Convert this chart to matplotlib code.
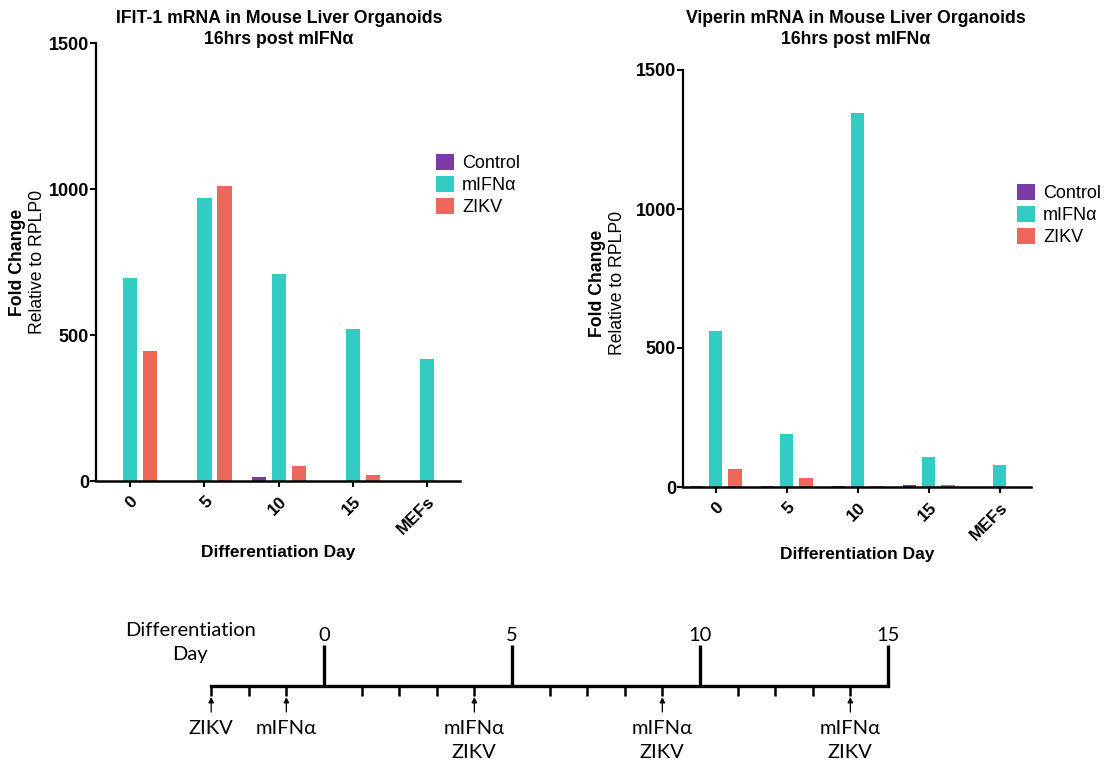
import numpy as np
import matplotlib.pyplot as plt
from matplotlib.patches import Patch

plt.rcParams['font.family'] = ['Liberation Sans', 'DejaVu Sans']

# bar chart data
groups = ['0', '5', '10', '15', 'MEFs']
series = ['Control', 'mIFNα', 'ZIKV']
colors = ['#7B3AA4', '#33CCC5', '#EE675C']

ifit1_control = [0, 0, 13, 0, 0]
ifit1_mifna = [695, 969, 709, 520, 418]
ifit1_zikv = [445, 1010, 52, 22, 0]

viperin_control = [2, 2, 2, 8, 0]
viperin_mifna = [561, 190, 1346, 109, 79]
viperin_zikv = [65, 32, 2, 6, 0]

# timeline data
major_days = [0, 5, 10, 15]
minor_days = [-3, -2, -1, 1, 2, 3, 4, 6, 7, 8, 9, 11, 12, 13, 14]
treat_days = [-3, -1, 4, 9, 14]
treat_labels = ['ZIKV', 'mIFNα', 'mIFNα\nZIKV', 'mIFNα\nZIKV', 'mIFNα\nZIKV']

fig = plt.figure(figsize=(11.09, 7.64), dpi=100)


def bar_panel(rect, values, legend_xy, xlabel_pad):
    ax = fig.add_axes(rect)
    x = np.arange(len(groups))
    width = 0.19
    offsets = [-0.27, 0, 0.27]
    for vals, off, c in zip(values, offsets, colors):
        ax.bar(x + off, vals, width, color=c, edgecolor='none')
    ax.set_xlim(-0.46, 4.44)
    ax.set_ylim(0, 1500)
    ax.set_yticks([0, 500, 1000, 1500])
    ax.set_xticks(x)
    ax.set_xticklabels(groups, rotation=45, ha='right', va='top',
                       rotation_mode='anchor', fontweight='bold', fontsize=12.5)
    for lab in ax.get_yticklabels():
        lab.set_fontweight('bold')
        lab.set_fontsize(13)
    ax.spines['top'].set_visible(False)
    ax.spines['right'].set_visible(False)
    ax.spines['left'].set_linewidth(1.6)
    ax.spines['bottom'].set_linewidth(1.8)
    ax.tick_params(axis='y', width=1.5, length=4, pad=1)
    ax.tick_params(axis='x', width=1.5, length=4, pad=5)
    ax.set_xlabel('Differentiation Day', fontweight='bold', fontsize=12.5,
                  labelpad=xlabel_pad)
    handles = [Patch(facecolor=c, label=s) for s, c in zip(series, colors)]
    fig.legend(handles=handles, loc='upper left', bbox_to_anchor=legend_xy,
               frameon=False, handlelength=1.0, handleheight=1.0,
               handletextpad=0.45, labelspacing=0.2, fontsize=13,
               borderaxespad=0, borderpad=0)
    return ax


ax1 = bar_panel([96 / 1109, 1 - 481 / 764, 364 / 1109, 438 / 764],
                [ifit1_control, ifit1_mifna, ifit1_zikv],
                (436 / 1109, 1 - 154 / 764), 6)
ax2 = bar_panel([683 / 1109, 1 - 487 / 764, 348 / 1109, 417 / 764],
                [viperin_control, viperin_mifna, viperin_zikv],
                (1017 / 1109, 1 - 184 / 764), 3)

fig.text(279 / 1109, 1 - 29 / 764, 'IFIT-1 mRNA in Mouse Liver Organoids\n16hrs post mIFNα',
         ha='center', va='center', fontweight='bold', fontsize=12.7, linespacing=1.25)
fig.text(856 / 1109, 1 - 29 / 764, 'Viperin mRNA in Mouse Liver Organoids\n16hrs post mIFNα',
         ha='center', va='center', fontweight='bold', fontsize=12.7, linespacing=1.25)

# y labels (two lines, bold + regular)
for xb, xr, yc in [(18, 38, 262), (597, 617, 283)]:
    fig.text(xb / 1109, 1 - yc / 764, 'Fold Change', rotation=90, ha='center', va='center',
             fontweight='bold', fontsize=12.7)
    fig.text(xr / 1109, 1 - yc / 764, 'Relative to RPLP0', rotation=90, ha='center',
             va='center', fontsize=12.7)

# timeline
ax3 = fig.add_axes([100 / 1109, 0, 900 / 1109, 164 / 764])
ax3.set_xlim(-5.957, 17.98)
ax3.set_ylim(764, 600)
ax3.axis('off')
tl_font = ['Lato', 'DejaVu Sans']

ax3.plot([-3, 15], [686, 686], color='black', lw=2.4, solid_capstyle='projecting')
ax3.vlines(major_days, 645, 686, color='black', lw=2.4)
ax3.vlines(minor_days, 686, 696, color='black', lw=1.8)
for d in major_days:
    ax3.text(d, 636, str(d), ha='center', va='center', fontsize=14.5, family=tl_font)
ax3.text(-3.56, 643, 'Differentiation\nDay', ha='center', va='center', fontsize=14.5,
         family=tl_font, linespacing=1.5)
for d, lab in zip(treat_days, treat_labels):
    ax3.annotate('', xy=(d, 697), xytext=(d, 712),
                 arrowprops=dict(arrowstyle='-|>', lw=0.9, color='black',
                                 mutation_scale=8, shrinkA=0, shrinkB=0))
    ax3.text(d, 720, lab, ha='center', va='top', fontsize=14.5, family=tl_font,
             linespacing=1.5)

fig.savefig('out.png', dpi=100)
